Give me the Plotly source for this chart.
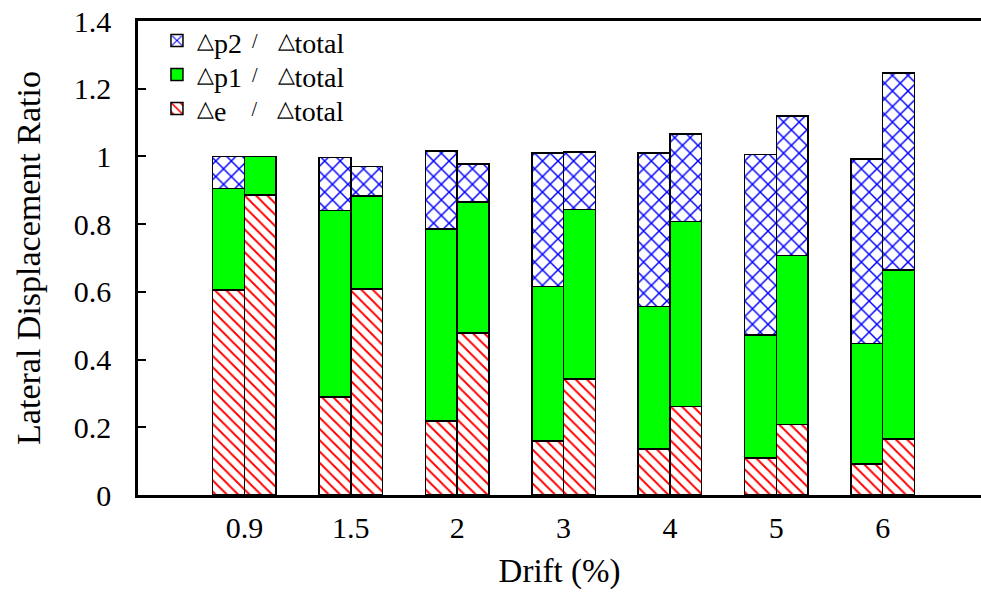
import plotly.graph_objects as go

drift_labels = ["0.9", "1.5", "2", "3", "4", "5", "6"]

# left bar of each pair
left_e = [0.605, 0.289, 0.219, 0.159, 0.136, 0.110, 0.091]
left_p1 = [0.301, 0.552, 0.566, 0.457, 0.421, 0.363, 0.356]
left_p2 = [0.094, 0.156, 0.231, 0.394, 0.453, 0.533, 0.545]

# right bar of each pair
right_e = [0.886, 0.609, 0.479, 0.343, 0.261, 0.208, 0.166]
right_p1 = [0.114, 0.274, 0.386, 0.501, 0.547, 0.499, 0.498]
right_p2 = [0.000, 0.087, 0.112, 0.169, 0.258, 0.412, 0.582]

FONT = "Liberation Serif"
BW = 0.298
idx = list(range(len(drift_labels)))
x_left = [i - BW / 2 for i in idx]
x_right = [i + BW / 2 for i in idx]

NB = "\u00a0"


def big(s):
    return f"<sub><span style='font-size:28px'>{s}</span></sub>"


def tri():
    return "<span style='font-size:22px'>△</span>"


name_p2 = f"{tri()}{big('p2')}{NB * 2}/{NB * 4}{tri()}{big('total')}"
name_p1 = f"{tri()}{big('p1')}{NB * 2}/{NB * 4}{tri()}{big('total')}"
name_e = f"{tri()}{big('e')}{NB * 5}/{NB * 4}{tri()}{big('total')}"

styles = {
    "e": dict(color="white", pattern=dict(shape="\\", fgcolor="#ff0000", bgcolor="white",
                                           size=8, solidity=0.24, fillmode="replace")),
    "p1": dict(color="#00ff00"),
    "p2": dict(color="white", pattern=dict(shape="x", fgcolor="#0000ff", bgcolor="white",
                                            size=11, solidity=0.25, fillmode="replace")),
}
names = {"e": name_e, "p1": name_p1, "p2": name_p2}
ranks = {"p2": 1, "p1": 2, "e": 3}

fig = go.Figure()
for xs, series, show in [(x_left, {"e": left_e, "p1": left_p1, "p2": left_p2}, True),
                         (x_right, {"e": right_e, "p1": right_p1, "p2": right_p2}, False)]:
    for key in ["e", "p1", "p2"]:
        fig.add_trace(go.Bar(
            x=xs, y=series[key], width=BW,
            name=names[key], legendgroup=key, legendrank=ranks[key],
            showlegend=show,
            marker=dict(**styles[key], line=dict(color="black", width=1.5)),
        ))

fig.update_layout(
    width=981, height=592,
    barmode="stack",
    paper_bgcolor="white", plot_bgcolor="white",
    margin=dict(l=138, r=0, t=21, b=97),
    font=dict(family=FONT, size=30, color="black"),
    legend=dict(x=0.0225, y=1.0, xanchor="left", yanchor="top",
                bgcolor="rgba(0,0,0,0)", font=dict(family=FONT, size=20),
                traceorder="grouped", tracegroupgap=5, itemwidth=30),
    showlegend=True,
)
fig.update_xaxes(
    range=[-1.0, 6.924], tickvals=idx, ticktext=drift_labels,
    showline=True, linecolor="black", linewidth=2.5, mirror=True,
    ticks="", showgrid=False, zeroline=False, ticklabelstandoff=4,
    tickfont=dict(family=FONT, size=30),
    title=dict(text="Drift (%)", font=dict(family=FONT, size=33), standoff=17),
)
fig.update_yaxes(
    range=[0, 1.4], tickvals=[0, 0.2, 0.4, 0.6, 0.8, 1, 1.2, 1.4],
    ticktext=["0", "0.2", "0.4", "0.6", "0.8", "1", "1.2", "1.4"],
    showline=True, linecolor="black", linewidth=2.5, mirror=False,
    ticks="inside", ticklen=8, tickwidth=1.5, tickcolor="black",
    showgrid=False, zeroline=False, ticklabelstandoff=18, ticklabeloverflow="allow",
    tickfont=dict(family=FONT, size=30),
    title=dict(text="Lateral Displacement Ratio", font=dict(family=FONT, size=34), standoff=23),
)

fig.write_html(
    "out.html",
    config={"displayModeBar": False},
    post_script="document.body.style.margin='0px';document.body.style.overflow='hidden';",
)
